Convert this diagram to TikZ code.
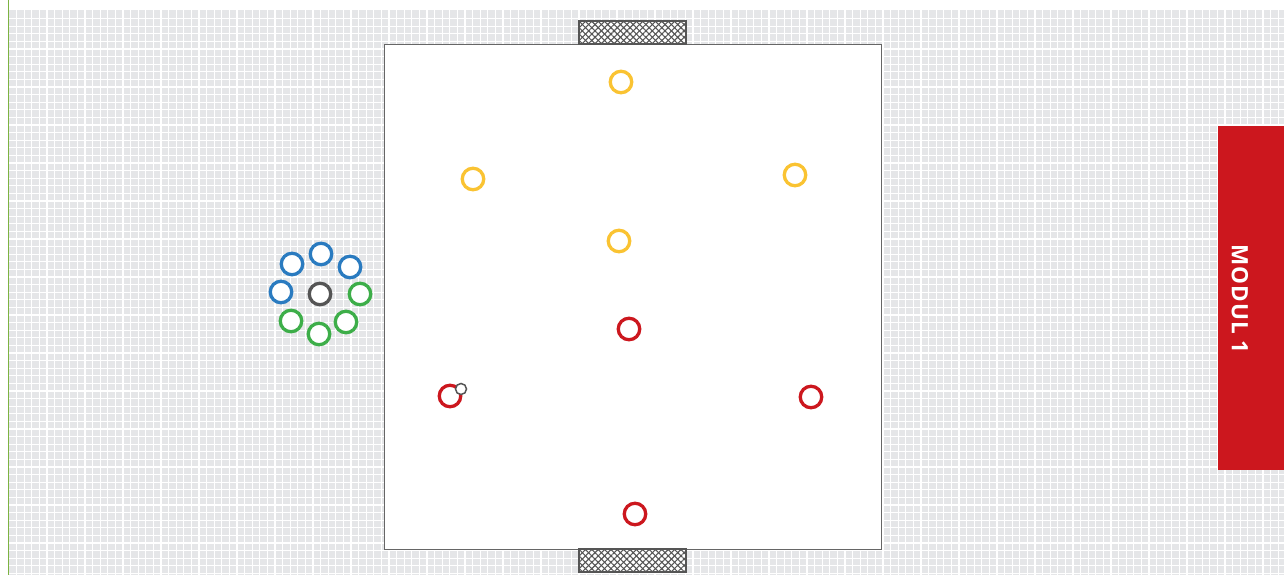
\documentclass[tikz,border=0pt]{standalone}
\usepackage{fontspec}
\newfontfamily\labelfont{Open Sans}[LetterSpace=4]
\usepackage{tikz}
\usetikzlibrary{patterns.meta}
\definecolor{fieldGrey}{HTML}{E5E6E8}
\definecolor{lineGreen}{HTML}{7DB342}
\definecolor{plYellow}{HTML}{FAC332}
\definecolor{plRed}{HTML}{CC171E}
\definecolor{plBlue}{HTML}{2A7BC0}
\definecolor{plGreen}{HTML}{3DAE49}
\definecolor{plDark}{HTML}{555555}

\begin{document}
\begin{tikzpicture}[x=1pt,y=-1pt,
    player/.style={circle,draw,fill=white,line width=3.3pt,minimum size=21.5pt,inner sep=0pt},
    ballnode/.style={circle,draw=plDark,fill=white,line width=1.5pt,minimum size=11pt,inner sep=0pt},
    goalbox/.style={draw=plDark,line width=2pt,fill=white}]
  \useasboundingbox (0,0) rectangle (1284,575);
  % grass grid
  \fill[fieldGrey] (9,10) rectangle (1284,575);
  \foreach \gx in {16.6,24.2,...,1284}
    \draw[white,line width=1.2pt] (\gx,10) -- (\gx,575);
  \foreach \gy in {18.6,26.2,...,575}
    \draw[white,line width=1.2pt] (9,\gy) -- (1284,\gy);
  \draw[lineGreen,line width=1.6pt] (8.5,0) -- (8.5,575);
  % pitch and goals
  \draw[fill=white,draw=plDark!90,line width=0.9pt] (384,44) rectangle (881,549);
  \foreach \gt/\gb in {21/44,549/572}{
    \draw[goalbox] (579,\gt) rectangle (686,\gb);
    \fill[pattern={Lines[angle=45,distance=4.5pt,line width=1.1pt]},pattern color=plDark] (579,\gt) rectangle (686,\gb);
    \fill[pattern={Lines[angle=-45,distance=4.5pt,line width=1.1pt]},pattern color=plDark] (579,\gt) rectangle (686,\gb);
    \draw[draw=plDark,line width=2pt] (579,\gt) rectangle (686,\gb);}
  % players
  \node[player,draw=plYellow] (y1) at (621,82) {};
  \node[player,draw=plYellow] (y2) at (473,179) {};
  \node[player,draw=plYellow] (y3) at (795,175) {};
  \node[player,draw=plYellow] (y4) at (619,241) {};
  \node[player,draw=plRed] (r1) at (629,329) {};
  \node[player,draw=plRed] (r2) at (450,396) {};
  \node[player,draw=plRed] (r3) at (811,397) {};
  \node[player,draw=plRed] (r4) at (635,514) {};
  \node[ballnode] (ball) at (461,389) {};
  % waiting group
  \node[player,draw=plBlue] (b1) at (292,264) {};
  \node[player,draw=plBlue] (b2) at (321,254) {};
  \node[player,draw=plBlue] (b3) at (350,267) {};
  \node[player,draw=plBlue] (b4) at (281,292) {};
  \node[player,draw=plDark] (c0) at (320,294) {};
  \node[player,draw=plGreen] (g1) at (360,294) {};
  \node[player,draw=plGreen] (g2) at (291,321) {};
  \node[player,draw=plGreen] (g3) at (319,334) {};
  \node[player,draw=plGreen] (g4) at (346,322) {};
  % module tab
  \fill[plRed] (1218,126) rectangle (1284,470);
  \node[rotate=-90,text=white,font=\labelfont\bfseries\fontsize{22.5}{26}\selectfont] (tab) at (1240,299) {MODUL 1};
\end{tikzpicture}
\end{document}
